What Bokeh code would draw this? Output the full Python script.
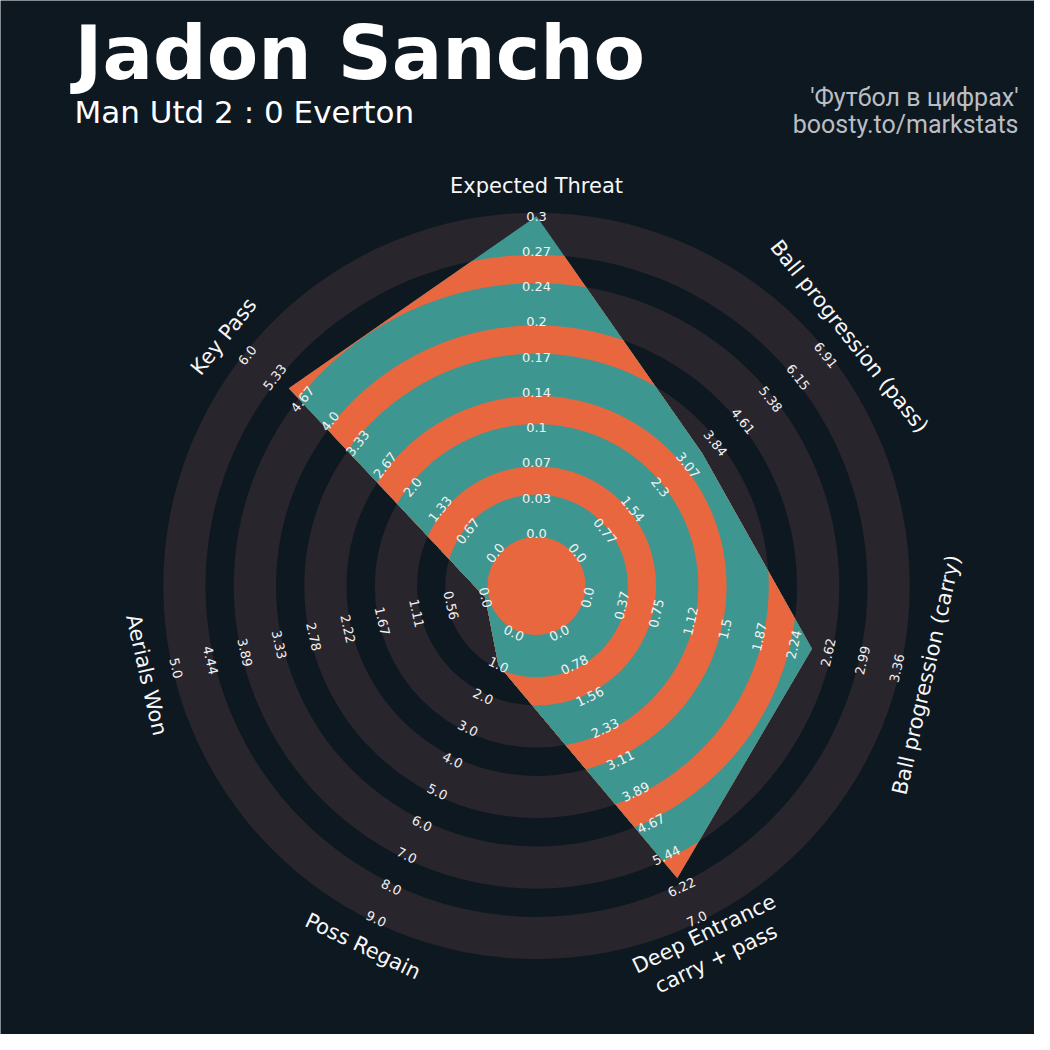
import numpy as np
from bokeh.plotting import figure
from bokeh.models import Range1d
from bokeh.embed import file_html
from bokeh.resources import INLINE
from bokeh.core.properties import value

# ---------------- data ----------------
params = ["Expected Threat", "Ball progression (pass)", "Ball progression (carry)",
          "Deep Entrance\ncarry + pass", "Poss Regain", "Aerials Won", "Key Pass"]
player_values = [0.30, 3.48, 2.44, 6.0, 1.0, 0.0, 5.0]
range_min = [0.0, 0.0, 0.0, 0.0, 0.0, 0.0, 0.0]
range_max = [0.30, 6.915, 3.365, 7.0, 9.0, 5.0, 6.0]
tick_labels = [
    ["0.0", "0.03", "0.07", "0.1", "0.14", "0.17", "0.2", "0.24", "0.27", "0.3"],
    ["0.0", "0.77", "1.54", "2.3", "3.07", "3.84", "4.61", "5.38", "6.15", "6.91"],
    ["0.0", "0.37", "0.75", "1.12", "1.5", "1.87", "2.24", "2.62", "2.99", "3.36"],
    ["0.0", "0.78", "1.56", "2.33", "3.11", "3.89", "4.67", "5.44", "6.22", "7.0"],
    ["0.0", "1.0", "2.0", "3.0", "4.0", "5.0", "6.0", "7.0", "8.0", "9.0"],
    ["0.0", "0.56", "1.11", "1.67", "2.22", "2.78", "3.33", "3.89", "4.44", "5.0"],
    ["0.0", "0.67", "1.33", "2.0", "2.67", "3.33", "4.0", "4.67", "5.33", "6.0"],
]
title = "Jadon Sancho"
subtitle = "Man Utd 2 : 0 Everton"
credit_lines = ["'Футбол в цифрах'", "boosty.to/markstats"]

# ---------------- style / geometry ----------------
BG = "#0e1821"
RING = "#28252c"
TEAL = "#3e9690"
ORANGE = "#e8673f"
W = H = 1034
CX, CY = 536.0, 585.4          # radar centre in page pixels
R0, R1 = 52.5, 369.75          # centre circle radius, outer radius
NR = 9
RW = (R1 - R0) / NR
EDGE = 3.5
LABEL_R = 400.0


def sx(x):
    return x - CX


def sy(y):
    return CY - y


p = figure(width=W, height=H,
           x_range=Range1d(-CX, W - CX), y_range=Range1d(CY - H, CY),
           output_backend="svg", toolbar_location=None, min_border=0,
           x_axis_location=None, y_axis_location=None,
           background_fill_color=BG, border_fill_color=BG, outline_line_color=None)
p.xgrid.visible = False
p.ygrid.visible = False

n = len(params)
ang = np.deg2rad(90 - np.arange(n) * 360.0 / n)

# background rings
for k in range(5):
    p.annulus(x=0, y=0, inner_radius=R0 + 2 * k * RW - EDGE,
              outer_radius=R0 + (2 * k + 1) * RW + EDGE,
              fill_color=RING, line_color=None)

# polygon
vals = np.array(player_values, dtype=float)
mn = np.array(range_min)
mx = np.array(range_max)
rv = R0 + (vals - mn) / (mx - mn) * (R1 - R0)
V = np.column_stack([rv * np.cos(ang), rv * np.sin(ang)])
segs = []
t = np.linspace(0, 1, 500, endpoint=False)
for i in range(n):
    a = V[i]
    b = V[(i + 1) % n]
    segs.append(a[None, :] * (1 - t)[:, None] + b[None, :] * t[:, None])
P = np.vstack(segs)
rad = np.hypot(P[:, 0], P[:, 1])

xs_list, ys_list, cols = [], [], []
for k in reversed(range(5)):
    for rb, col in ((R0 + (2 * k + 1) * RW + EDGE, TEAL), (R0 + 2 * k * RW - EDGE, ORANGE)):
        s = np.minimum(1.0, rb / rad)
        xs_list.append(list(P[:, 0] * s))
        ys_list.append(list(P[:, 1] * s))
        cols.append(col)
p.patches(xs=xs_list, ys=ys_list, fill_color=cols, line_color=None)


def rot_for(a):
    r = np.rad2deg(a) - 90.0
    r = (r + 180.0) % 360.0 - 180.0
    if r > 90:
        r -= 180
    elif r < -90:
        r += 180
    return np.deg2rad(r)


# range labels
lx, ly, lt, la = [], [], [], []
for i in range(n):
    for j, lab in enumerate(tick_labels[i]):
        r = R0 + j * RW
        lx.append(r * np.cos(ang[i]))
        ly.append(r * np.sin(ang[i]))
        lt.append(lab)
        la.append(rot_for(ang[i]))
p.text(x=lx, y=ly, text=lt, angle=la, text_align="center", text_baseline="middle",
       text_font=value("DejaVu Sans"), text_font_size="13px", text_color="#f2f2f2")

# parameter labels
px = [LABEL_R * np.cos(a) for a in ang]
py = [LABEL_R * np.sin(a) for a in ang]
pa = [rot_for(a) for a in ang]
p.text(x=px, y=py, text=params, angle=pa, text_align="center", text_baseline="middle",
       text_font=value("DejaVu Sans"), text_font_size="21px", text_color="#f7f7f7",
       text_line_height=1.15)

# titles
p.text(x=[sx(74)], y=[sy(52)], text=[title], text_align="left", text_baseline="alphabetic",
       text_font=value("DejaVu Sans"), text_font_style="bold", text_font_size="75px",
       text_color="#ffffff")
p.text(x=[sx(74)], y=[sy(111)], text=[subtitle], text_align="left", text_baseline="alphabetic",
       text_font=value("DejaVu Sans"), text_font_size="31px", text_color="#ffffff")
p.text(x=[sx(1018), sx(1018)], y=[sy(96.5), sy(123.5)], text=credit_lines,
       text_align="right", text_baseline="alphabetic",
       text_font=value("Roboto"), text_font_size="25px", text_color="#babec3")

open("out.html", "w").write(file_html(p, INLINE))
